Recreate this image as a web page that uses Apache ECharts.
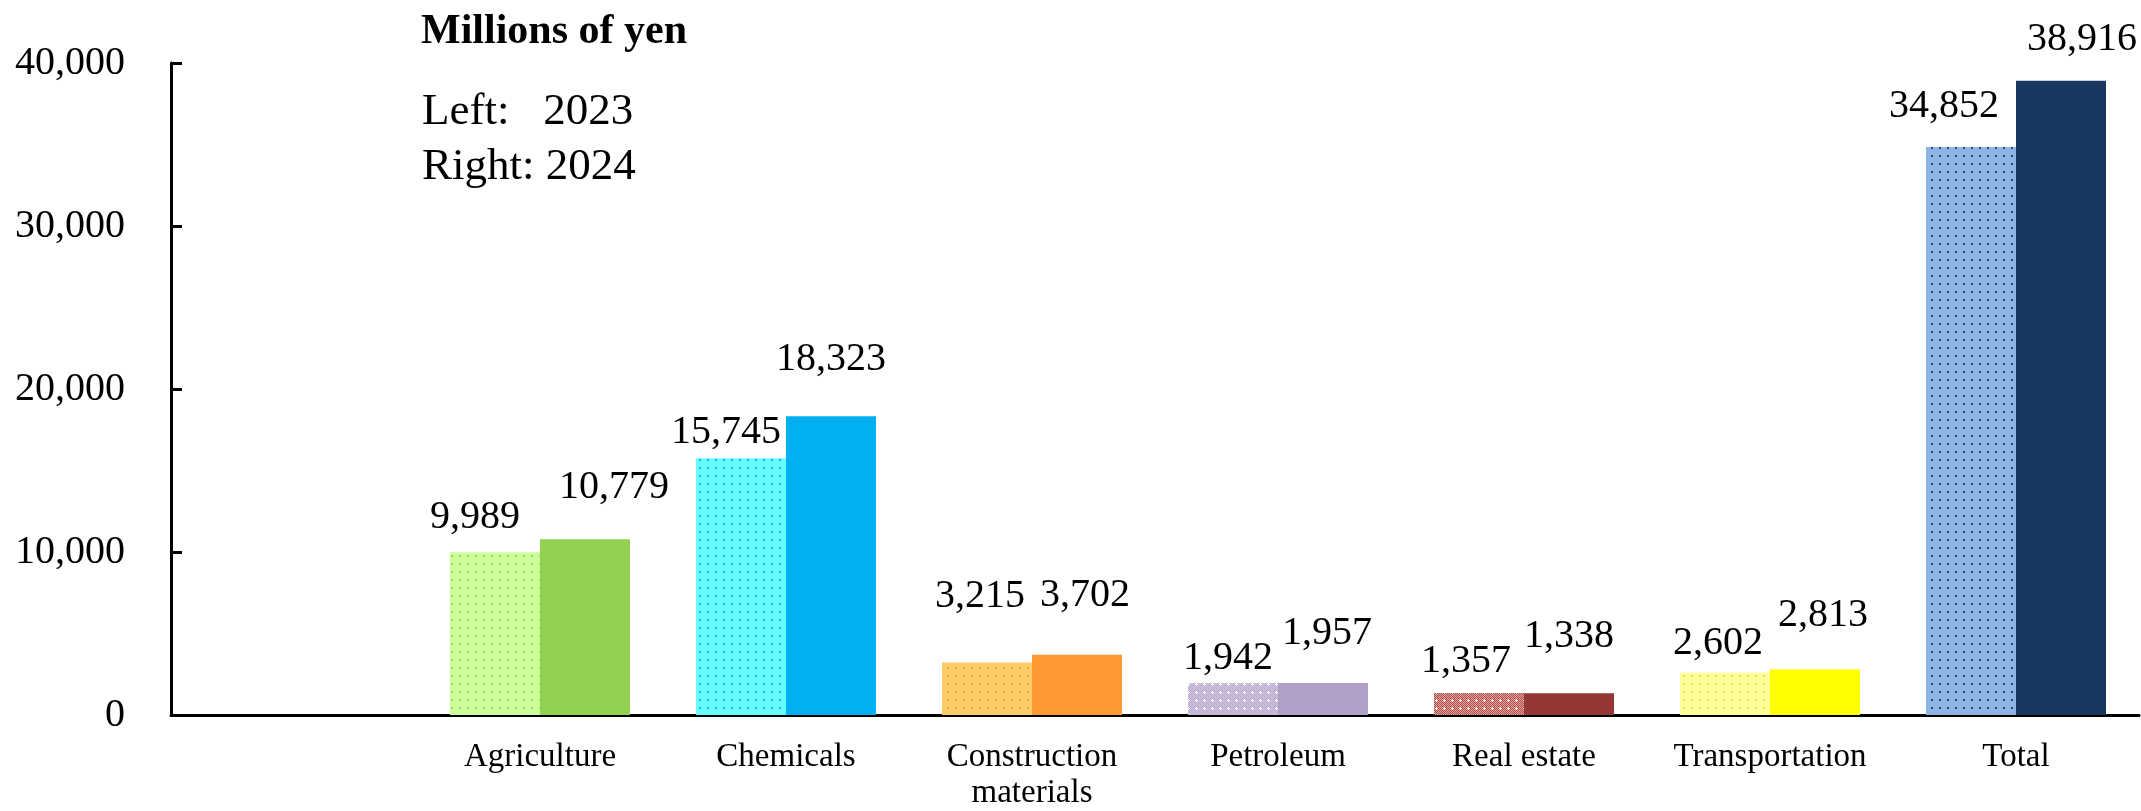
<!DOCTYPE html>
<html>
<head>
<meta charset="utf-8">
<title>Millions of yen</title>
<script src="https://cdn.jsdelivr.net/npm/echarts@6/dist/echarts.min.js"></script>
<style>
    html, body { margin: 0; padding: 0; background: #fff; }
    #chart { width: 2141px; height: 811px; }
</style>
</head>
<body>
<div id="chart"></div>
<script>
// data -- first category slot is empty in the original chart
const categories = ['', 'Agriculture', 'Chemicals', 'Construction\nmaterials', 'Petroleum', 'Real estate', 'Transportation', 'Total'];
const values2023 = [null, 9989, 15745, 3215, 1942, 1357, 2602, 34852];
const values2024 = [null, 10779, 18323, 3702, 1957, 1338, 2813, 38916];
const yTicks = [0, 10000, 20000, 30000, 40000];

// colours: right bars solid, left bars lighter with a pattern
const solidColors = [null, '#92D050', '#00B0F0', '#FF9933', '#B1A0C7', '#953735', '#FFFF00', '#17375E'];
const lightColors = [null, '#CCFF99', '#66FFFF', '#FFCC66', '#B9A9CF', '#B5504D', '#FFFF99', '#8DB4E2'];
const dotColors = [null, '#9FD75E', '#19B4F0', '#F4A53E', '#D2C7E2', '#DDA09E', '#E6E650', '#2A4A75'];
const latticeCats = [4, 5];

// label nudges (dx, rise above bar top) -- the original labels were placed by hand
const leftShift = [null, [-20, 35], [-15, 26], [-7, 66], [-5, 25], [-13, 31], [-7, 29], [-27, 40]];
const rightShift = [null, [29, 52], [0, 57], [8, 59], [4, 50], [0, 57], [8, 54], [21, 41]];

const FONT = 'Liberation Serif';

function makePattern(i) {
    const c = document.createElement('canvas');
    c.width = 8;
    c.height = 8;
    const g = c.getContext('2d');
    g.fillStyle = lightColors[i];
    g.fillRect(0, 0, 8, 8);
    if (latticeCats.indexOf(i) >= 0) {
        // fine checker with small white crosses
        g.fillStyle = dotColors[i];
        for (let y = 0; y < 8; y++) {
            for (let x = 0; x < 8; x++) {
                if ((x + y) % 2) g.fillRect(x, y, 1, 1);
            }
        }
        g.fillStyle = '#ffffff';
        g.fillRect(3, 4, 3, 1);
        g.fillRect(4, 3, 1, 3);
    } else {
        g.fillStyle = dotColors[i];
        g.fillRect(3, 3, 2, 2);
    }
    return { image: c, repeat: 'repeat' };
}

const fmt = (v) => Number(v).toLocaleString('en-US');

const labelBase = {
    show: true,
    position: 'top',
    distance: 0,
    fontFamily: FONT,
    fontSize: 40,
    color: '#000',
    formatter: (p) => fmt(p.value)
};

const data2023 = values2023.map((v, i) => v == null ? null : {
    value: v,
    itemStyle: { color: makePattern(i) },
    label: Object.assign({}, labelBase, { offset: [leftShift[i][0], 20 - leftShift[i][1]] })
});
const data2024 = values2024.map((v, i) => v == null ? null : {
    value: v,
    itemStyle: { color: solidColors[i] },
    label: Object.assign({}, labelBase, { offset: [rightShift[i][0], 20 - rightShift[i][1]] })
});

const chart = echarts.init(document.getElementById('chart'));

const option = {
    animation: false,
    backgroundColor: '#fff',
    textStyle: { fontFamily: FONT },
    grid: {
        left: 171,
        right: 2,
        top: 63,
        bottom: 95
    },
    graphic: [
        {
            type: 'text', left: 421, top: 11,
            style: { text: 'Millions of yen', font: 'bold 42px "Liberation Serif"', fill: '#000' }
        },
        {
            type: 'text', left: 422, top: 90,
            style: { text: 'Left:   2023', font: '45px "Liberation Serif"', fill: '#000' }
        },
        {
            type: 'text', left: 422, top: 145,
            style: { text: 'Right: 2024', font: '45px "Liberation Serif"', fill: '#000' }
        }
    ],
    xAxis: {
        type: 'category',
        data: categories,
        axisLine: { lineStyle: { color: '#000', width: 3 } },
        axisTick: { show: false },
        axisLabel: {
            interval: 0,
            margin: 24,
            fontFamily: FONT,
            fontSize: 33,
            lineHeight: 36,
            color: '#000'
        }
    },
    yAxis: {
        type: 'value',
        min: yTicks[0],
        max: yTicks[yTicks.length - 1],
        interval: yTicks[1] - yTicks[0],
        axisLine: { show: true, lineStyle: { color: '#000', width: 3 } },
        axisTick: { show: true, inside: true, length: 11, lineStyle: { color: '#000', width: 3 } },
        splitLine: { show: false },
        axisLabel: {
            margin: 46,
            fontFamily: FONT,
            fontSize: 40,
            color: '#000',
            formatter: (v) => fmt(v)
        }
    },
    series: [
        {
            name: '2023',
            type: 'bar',
            barWidth: 90,
            barGap: '0%',
            data: data2023,
            label: labelBase
        },
        {
            name: '2024',
            type: 'bar',
            barWidth: 90,
            barGap: '0%',
            data: data2024,
            label: labelBase
        }
    ]
};

chart.setOption(option);
</script>
</body>
</html>
